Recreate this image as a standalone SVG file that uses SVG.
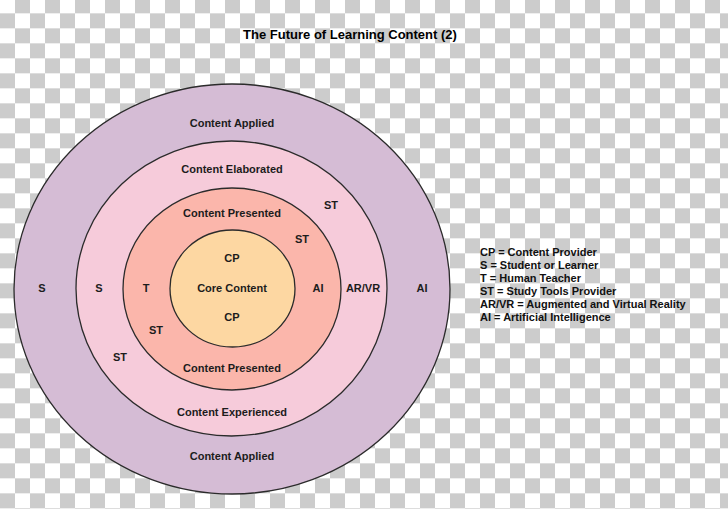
<svg xmlns="http://www.w3.org/2000/svg" width="728" height="509" viewBox="0 0 728 509">
  <defs>
    <pattern id="checker" x="0" y="-1.67" width="30" height="30" patternUnits="userSpaceOnUse">
      <rect x="0" y="0" width="30" height="30" fill="#ffffff"/>
      <rect x="15" y="0" width="15" height="15" fill="#cccccc"/>
      <rect x="0" y="15" width="15" height="15" fill="#cccccc"/>
    </pattern>
    <style>
      .ring { stroke: #2b2b2b; stroke-width: 1.3; }
      .lbl { font-family: "Liberation Sans", Arial, sans-serif; font-size: 11px; font-weight: bold; fill: #1c1c1c; text-anchor: middle; }
      .leg { font-family: "Liberation Sans", Arial, sans-serif; font-size: 11px; font-weight: bold; fill: #111111; }
      .title { font-family: "Liberation Sans", Arial, sans-serif; font-size: 13px; font-weight: bold; fill: #000000; text-anchor: middle; }
    </style>
  </defs>

  <rect x="0" y="0" width="728" height="509" fill="url(#checker)"/>

  <text class="title" x="350" y="39">The Future of Learning Content (2)</text>

  <g id="ring-applied">
    <ellipse class="ring" cx="232" cy="289" rx="218" ry="205" fill="#d5bcd5"/>
    <text class="lbl" x="232" y="127">Content Applied</text>
    <text class="lbl" x="232" y="460">Content Applied</text>
    <text class="lbl" x="42" y="292">S</text>
    <text class="lbl" x="422" y="292">AI</text>
  </g>

  <g id="ring-elaborated">
    <ellipse class="ring" cx="231.5" cy="288.5" rx="155.5" ry="147.5" fill="#f6cbda"/>
    <text class="lbl" x="232" y="173">Content Elaborated</text>
    <text class="lbl" x="232" y="416">Content Experienced</text>
    <text class="lbl" x="99" y="292">S</text>
    <text class="lbl" x="363" y="292">AR/VR</text>
    <text class="lbl" x="331" y="209">ST</text>
    <text class="lbl" x="120" y="361">ST</text>
  </g>

  <g id="ring-presented">
    <ellipse class="ring" cx="232" cy="289" rx="109" ry="101" fill="#fbb6ab"/>
    <text class="lbl" x="232" y="217">Content Presented</text>
    <text class="lbl" x="232" y="372">Content Presented</text>
    <text class="lbl" x="146" y="292">T</text>
    <text class="lbl" x="318" y="292">AI</text>
    <text class="lbl" x="302" y="243">ST</text>
    <text class="lbl" x="156" y="334">ST</text>
  </g>

  <g id="core">
    <ellipse class="ring" cx="232.5" cy="288.5" rx="62.5" ry="58.5" fill="#fdd7a2"/>
    <text class="lbl" x="232" y="262">CP</text>
    <text class="lbl" x="232" y="292">Core Content</text>
    <text class="lbl" x="232" y="321">CP</text>
  </g>

  <g id="legend">
    <text class="leg" x="480" y="256">CP = Content Provider</text>
    <text class="leg" x="480" y="269">S = Student or Learner</text>
    <text class="leg" x="480" y="282">T = Human Teacher</text>
    <text class="leg" x="480" y="295">ST = Study Tools Provider</text>
    <text class="leg" x="480" y="308">AR/VR = Augmented and Virtual Reality</text>
    <text class="leg" x="480" y="321">AI = Artificial Intelligence</text>
  </g>
</svg>
